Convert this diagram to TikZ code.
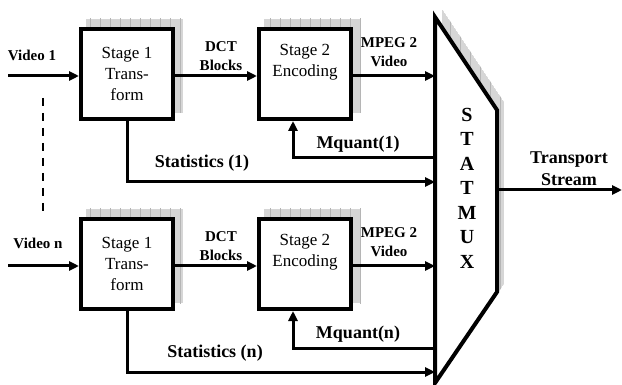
\documentclass[tikz,border=0pt]{standalone}
\usepackage{fontspec}
\setmainfont{Liberation Serif}
\usetikzlibrary{arrows.meta}
\tikzset{
  stagebox/.style={draw, line width=4pt, fill=white, minimum width=92pt, minimum height=90pt,
    align=center, inner sep=0pt, font=\fontsize{17}{21}\selectfont},
  arr/.style={line width=3pt, -{Triangle[length=10pt,width=9pt]}},
  lbl/.style={font=\bfseries\fontsize{15}{18.5}\selectfont, align=center, inner sep=0pt},
  biglbl/.style={font=\bfseries\fontsize{18}{22}\selectfont, align=center, inner sep=0pt},
  shadowfill/.style={fill=gray!32},
  shadowgrid/.style={draw=gray!58, line width=0.4pt}
}
\newcommand\gshadow[1]{%
  \begin{scope}
    \clip #1;
    \fill[shadowfill] #1;
    \draw[shadowgrid, step=10] (0,0) grid (622,385);
  \end{scope}}
\begin{document}
\begin{tikzpicture}[x=1pt,y=-1pt]
\useasboundingbox (0,0) rectangle (622,385);
% shadows
\gshadow{(86,19) rectangle (183,113)}
\gshadow{(264,19) rectangle (361,113)}
\gshadow{(86,209) rectangle (183,303)}
\gshadow{(264,209) rectangle (361,303)}
\gshadow{(442,9) -- (504,102) -- (504,284) -- (442,375) -- cycle}
% MUX shape
\draw[line width=4pt, fill=white, line join=miter] (435,17) -- (497,110) -- (497,292) -- (435,383) -- cycle;
\coordinate (muxL) at (435,0);
\node[font=\bfseries\fontsize{20}{24.5}\selectfont, align=center, inner sep=0pt] (mux) at (467,188)
  {S\\T\\A\\T\\M\\U\\X};
% boxes
\node[stagebox] (s1a) at (127,74) {Stage 1\\Trans-\\form};
\node[stagebox] (s2a) at (305,74) {Stage 2\\Encoding\\\strut};
\node[stagebox] (s1b) at (127,264) {Stage 1\\Trans-\\form};
\node[stagebox] (s2b) at (305,264) {Stage 2\\Encoding\\\strut};
% inputs
\coordinate (in1) at (8,76);
\coordinate (inn) at (8,266);
\draw[arr] (in1) -- (in1 -| s1a.west);
\draw[arr] (inn) -- (inn -| s1b.west);
\node[lbl] (v1) at (32,55) {Video 1};
\node[lbl] (vn) at (38,243) {Video n};
\coordinate (dtop) at (43,98);
\coordinate (dbot) at (43,217);
\draw[line width=2.5pt, dash pattern=on 8pt off 7pt] (dtop) -- (dbot);
% stage1 -> stage2
\draw[arr] ([yshift=-2pt]s1a.east) -- ([yshift=-2pt]s2a.west);
\draw[arr] ([yshift=-2pt]s1b.east) -- ([yshift=-2pt]s2b.west);
\node[lbl] (dct1) at (221,56) {DCT\\Blocks};
\node[lbl] (dctn) at (221,246) {DCT\\Blocks};
% stage2 -> mux
\draw[arr] ([yshift=-2pt]s2a.east) -- ([yshift=-2pt]s2a.east -| muxL);
\draw[arr] ([yshift=-2pt]s2b.east) -- ([yshift=-2pt]s2b.east -| muxL);
\node[lbl] (mp1) at (389,52) {MPEG 2\\Video};
\node[lbl] (mpn) at (389,242) {MPEG 2\\Video};
% statistics
\coordinate (st1) at (435,182);
\coordinate (stn) at (435,372);
\draw[arr] (s1a.south) |- (st1);
\draw[arr] (s1b.south) |- (stn);
\node[biglbl] (stl1) at (202,163) {Statistics (1)};
\node[biglbl] (stln) at (215,353) {Statistics (n)};
% mquant
\coordinate (mq1) at (435,158);
\coordinate (mqn) at (435,348);
\draw[arr] (mq1) -| ([xshift=-12pt]s2a.south);
\draw[arr] (mqn) -| ([xshift=-12pt]s2b.south);
\node[biglbl] (mql1) at (358,144) {Mquant(1)};
\node[biglbl] (mqln) at (358,334) {Mquant(n)};
% output
\coordinate (ts) at (497,190);
\coordinate (tsend) at (622,190);
\draw[arr] (ts) -- (tsend);
\node[biglbl] (tsl) at (569,169) {Transport\\Stream};
\end{tikzpicture}
\end{document}
